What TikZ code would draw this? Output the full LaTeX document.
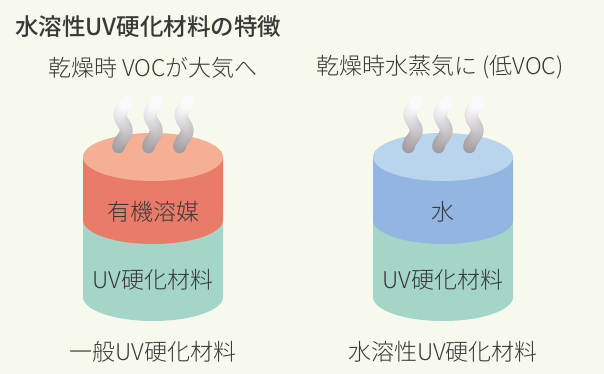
\documentclass[tikz,border=0pt]{standalone}
\usepackage{fontspec}
\setmainfont{Noto Sans CJK JP}[UprightFont=* Light, BoldFont=* Medium]
\usepackage{tikz}
\definecolor{paper}{HTML}{F7F9EC}
\definecolor{ink}{HTML}{3A3838}
\definecolor{solvent-top}{HTML}{F4AF95}
\definecolor{solvent-side}{HTML}{EA7B69}
\definecolor{water-top}{HTML}{B9D5EE}
\definecolor{water-side}{HTML}{93B5E1}
\definecolor{resin}{HTML}{A3D5C9}
\definecolor{steam-top}{HTML}{FAF9FB}
\definecolor{steam-bottom}{HTML}{A29BA0}
\tikzset{
  heading/.style={anchor=west, text=ink, font=\bfseries\fontsize{23.5}{27}\selectfont, inner sep=0pt},
  caption/.style={text=ink, font=\fontsize{23}{27}\selectfont, inner sep=0pt},
  steam-line/.style={line width=12.5pt, line cap=round},
}
\newcommand{\tikzcan}[3]{%
% resin layer
\fill[resin] (#1-70,154) -- (#1-70,77) arc[start angle=180, end angle=360, x radius=70pt, y radius=24pt] -- (#1+70,154) -- cycle;
% solvent layer
\fill[#3] (#1-70,217) -- (#1-70,154) arc[start angle=180, end angle=360, x radius=70pt, y radius=24pt] -- (#1+70,217) -- cycle;
% top face
\fill[#2] (#1,217) ellipse[x radius=70pt, y radius=24pt];
}
\newcommand{\tikzsteam}[1]{%
\foreach \i in {0,...,29} {
  \pgfmathsetmacro{\ta}{\i/30}
  \pgfmathsetmacro{\tb}{(\i+1)/30}
  \pgfmathsetmacro{\mix}{100*\i/29}
  \draw[steam-line, draw=steam-top!\mix!steam-bottom] plot[domain=\ta:\tb, samples=4, smooth] ({#1 + 1 + 2*\x - 3.5*cos(500*\x)}, {227 + 45*\x});
}
}

\begin{document}
\begin{tikzpicture}[x=1pt, y=1pt]
\fill[paper] (0,0) rectangle (604,374);
\useasboundingbox (0,0) rectangle (604,374);

\node[heading] (title) at (15,347) {水溶性UV硬化材料の特徴};

% general UV material
\node[caption] (left-note) at (153,306) {乾燥時 VOCが大気へ};
\tikzcan{153}{solvent-top}{solvent-side}
\foreach \sx in {121,151,182} {\tikzsteam{\sx}}
\node[caption] (left-solvent) at (153,162) {有機溶媒};
\node[caption] (left-resin) at (153,94) {UV硬化材料};
\node[caption] (left-name) at (153,22) {一般UV硬化材料};

% water-based UV material
\node[caption] (right-note) at (440,307) {乾燥時水蒸気に (低VOC)};
\tikzcan{443}{water-top}{water-side}
\foreach \sx in {411,441,472} {\tikzsteam{\sx}}
\node[caption] (right-water) at (443,162) {水};
\node[caption] (right-resin) at (443,94) {UV硬化材料};
\node[caption] (right-name) at (443,22) {水溶性UV硬化材料};
\end{tikzpicture}
\end{document}
